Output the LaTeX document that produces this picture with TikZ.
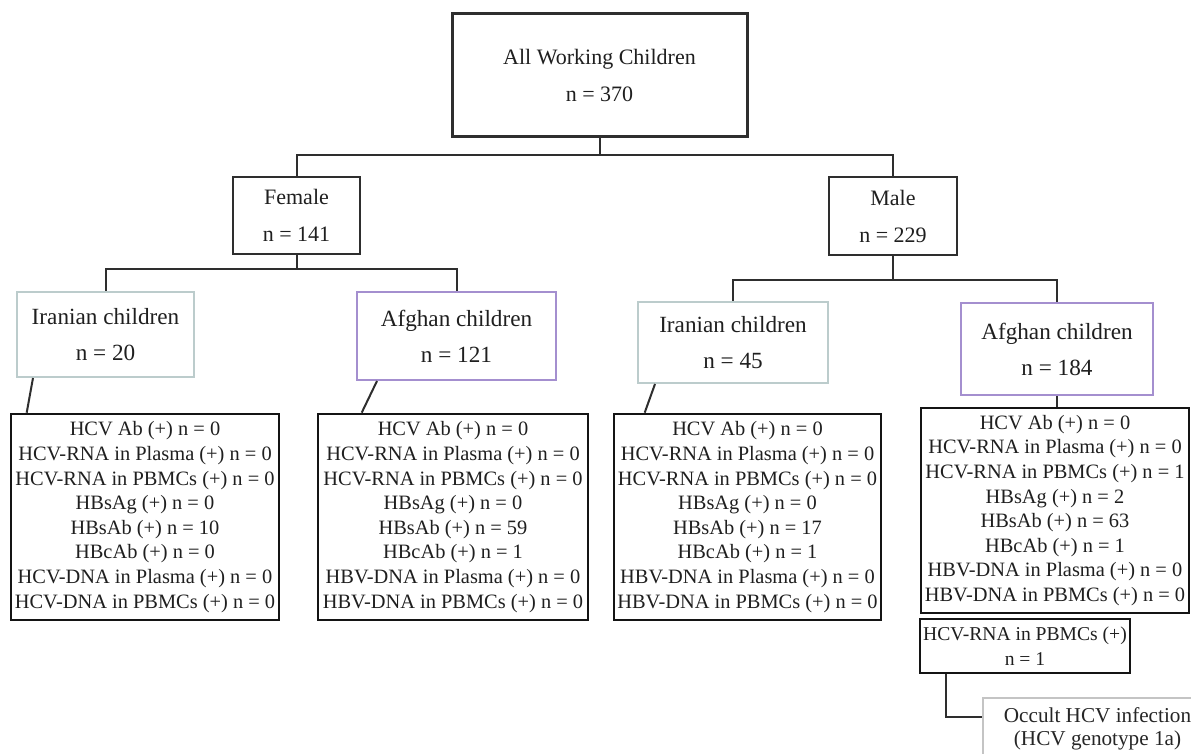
\documentclass[tikz,border=0pt]{standalone}
\usepackage{fontspec}
\setmainfont{Liberation Serif}
\usetikzlibrary{calc}
\definecolor{linegray}{HTML}{2E2E2E}
\definecolor{iranblue}{HTML}{BCCCCC}
\definecolor{afghanviolet}{HTML}{A48FCF}
\definecolor{occultgray}{HTML}{C4C4C4}
\begin{document}
\begin{tikzpicture}[x=0.5pt,y=-0.5pt,
  box/.style={draw=#1,line width=1pt,align=center,inner sep=0pt,text=black!88},
  head/.style={box=#1,font=\fontsize{11}{18.5}\selectfont},
  kids/.style={box=#1,font=\fontsize{11.6}{18}\selectfont},
  list/.style={box=black!92,line width=1.3pt,font=\fontsize{10.2}{12.3}\selectfont},
  conn/.style={draw=linegray,line width=1pt}]
\fill[white] (0,0) rectangle (1191,754);
\useasboundingbox (0,0) rectangle (1191,754);

\node[head=linegray,line width=1.5pt,minimum width=147.5pt,minimum height=61.5pt] (all) at (599.5,75.5) {All Working Children\\n = 370};

\node[head=linegray,line width=1.2pt,minimum width=63.5pt,minimum height=38.5pt] (female) at (296.5,215.5) {Female\\n = 141};
\node[head=linegray,line width=1.2pt,minimum width=64pt,minimum height=39pt] (male) at (893,216) {Male\\n = 229};

\node[kids=iranblue,minimum width=88.5pt,minimum height=42.5pt] (iranF) at (105.5,334.5) {Iranian children\\n = 20};
\node[kids=afghanviolet,minimum width=99.5pt,minimum height=44pt] (afghanF) at (456.5,336) {Afghan children\\n = 121};
\node[kids=iranblue,minimum width=95pt,minimum height=40.5pt] (iranM) at (733,342.5) {Iranian children\\n = 45};
\node[kids=afghanviolet,minimum width=96pt,minimum height=46pt] (afghanM) at (1057,349) {Afghan children\\n = 184};

\node[list,minimum width=134pt,minimum height=103pt] (detF1) at (145,517) {HCV Ab (+) n = 0\\HCV-RNA in Plasma (+) n = 0\\HCV-RNA in PBMCs (+) n = 0\\HBsAg (+) n = 0\\HBsAb (+) n = 10\\HBcAb (+) n = 0\\HCV-DNA in Plasma (+) n = 0\\HCV-DNA in PBMCs (+) n = 0};
\node[list,minimum width=135pt,minimum height=103pt] (detF2) at (453,517) {HCV Ab (+) n = 0\\HCV-RNA in Plasma (+) n = 0\\HCV-RNA in PBMCs (+) n = 0\\HBsAg (+) n = 0\\HBsAb (+) n = 59\\HBcAb (+) n = 1\\HBV-DNA in Plasma (+) n = 0\\HBV-DNA in PBMCs (+) n = 0};
\node[list,minimum width=133.5pt,minimum height=103pt] (detM1) at (747.5,517) {HCV Ab (+) n = 0\\HCV-RNA in Plasma (+) n = 0\\HCV-RNA in PBMCs (+) n = 0\\HBsAg (+) n = 0\\HBsAb (+) n = 17\\HBcAb (+) n = 1\\HBV-DNA in Plasma (+) n = 0\\HBV-DNA in PBMCs (+) n = 0};
\node[list,minimum width=134pt,minimum height=102.5pt] (detM2) at (1055,510.5) {HCV Ab (+) n = 0\\HCV-RNA in Plasma (+) n = 0\\HCV-RNA in PBMCs (+) n = 1\\HBsAg (+) n = 2\\HBsAb (+) n = 63\\HBcAb (+) n = 1\\HBV-DNA in Plasma (+) n = 0\\HBV-DNA in PBMCs (+) n = 0};

\node[list,font=\fontsize{9.8}{12.5}\selectfont,minimum width=105pt,minimum height=27pt] (pbmc) at (1025,646) {HCV-RNA in PBMCs (+)\\n = 1};
\node[box=occultgray,text=black!85,font=\fontsize{10.6}{11.5}\selectfont,minimum width=106.5pt,minimum height=31pt] (occult) at (1089.5,729) {\hspace*{8pt}Occult HCV infection\\\hspace*{8pt}(HCV genotype 1a)};

\coordinate (s0) at (599.5,155);
\coordinate (s1) at (296.5,269);
\coordinate (s2) at (893,280);
\draw[conn] (all) -- (s0) -| (female);
\draw[conn] (s0) -| (male);
\draw[conn] (female) -- (s1) -| (iranF);
\draw[conn] (s1) -| (afghanF);
\draw[conn] (male) -- (s2) -| (iranM);
\draw[conn] (s2) -| (afghanM);
\draw[conn] ($(iranF.south west)+(17,0)$) -- ($(detF1.north west)+(17,0)$);
\draw[conn] ($(afghanF.south west)+(21,0)$) -- ($(detF2.north west)+(45,0)$);
\draw[conn] ($(iranM.south west)+(18,0)$) -- ($(detM1.north west)+(32,0)$);
\draw[conn] (afghanM.south) -- (afghanM.south |- detM2.north);
\draw[conn] ($(pbmc.south west)+(27,0)$) |- ($(occult.north west)+(0,20)$);
\end{tikzpicture}
\end{document}
